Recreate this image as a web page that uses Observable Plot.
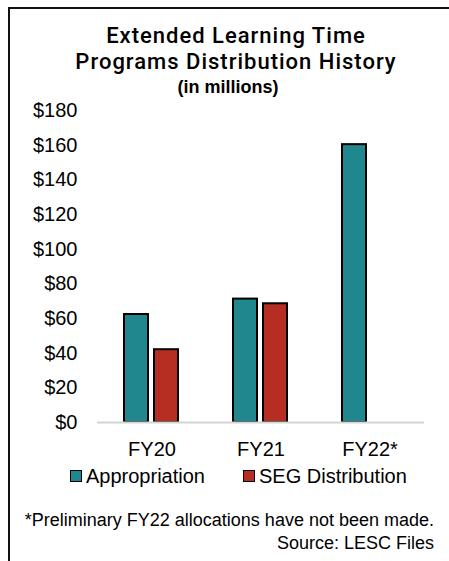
<!DOCTYPE html>
<html>
<head>
<meta charset="utf-8">
<script src="https://cdn.jsdelivr.net/npm/d3@7"></script>
<script src="https://cdn.jsdelivr.net/npm/@observablehq/plot@0.6"></script>
<style>
  html, body { margin: 0; padding: 0; background: #fff; width: 449px; height: 561px; overflow: hidden; }
  body { position: relative; font-family: "Liberation Sans", Arial, sans-serif; color: #000; }
  #frame { position: absolute; left: 8px; top: 7px; width: 460px; height: 600px; border-left: 2px solid #111; border-top: 2px solid #111; }
  .t { position: absolute; left: 12px; width: 448px; text-align: center; white-space: nowrap; }
  #title { top: 23px; font-family: Roboto, "Liberation Sans", sans-serif; font-weight: 500; font-size: 22px; line-height: 26px; letter-spacing: 1px; }
  #sub { top: 77px; font-size: 18px; font-weight: bold; line-height: 20px; left: 4px; }
  #chart { position: absolute; left: 0; top: 100px; }
  #legend { position: absolute; top: 463px; left: 0; width: 449px; font-size: 20px; line-height: 26px; }
  .li { position: absolute; top: 0; white-space: nowrap; }
  .sw { display: inline-block; width: 10px; height: 10px; border: 1.5px solid #000; margin-right: 4px; vertical-align: 1px; }
  .note { position: absolute; right: 15px; font-size: 18px; line-height: 22px; white-space: nowrap; text-align: right; }
</style>
</head>
<body>
<div id="frame"></div>
<div class="t" id="title">Extended Learning Time<br>Programs Distribution History</div>
<div class="t" id="sub">(in millions)</div>
<div id="chart"></div>
<div id="legend"></div>
<div class="note" id="note1" style="top:509px">*Preliminary FY22 allocations have not been made.</div>
<div class="note" id="note2" style="top:532px">Source: LESC Files</div>
<script>
const years = ["FY20", "FY21", "FY22*"];
const series = ["Appropriation", "SEG Distribution"];
const appropriation = [62.3, 71.2, 160.3];
const segDistribution = [42.0, 68.5, null];
const yTicks = [0, 20, 40, 60, 80, 100, 120, 140, 160, 180];
const colors = ["#1F878D", "#B52E21"];

const data = [];
years.forEach((yr, i) => {
  data.push({year: yr, series: series[0], value: appropriation[i]});
  data.push({year: yr, series: series[1], value: segDistribution[i]});
});

const chart = Plot.plot({
  width: 449,
  height: 360,
  marginTop: 10,
  marginBottom: 38,
  marginLeft: 96,
  marginRight: 24,
  style: {fontFamily: "Liberation Sans, Arial, sans-serif", fontSize: "20px", color: "#000", background: "transparent"},
  fx: {domain: years, padding: 0, label: null, axis: "bottom", tickSize: 0, tickPadding: 19},
  x: {domain: series, paddingInner: 0.19, paddingOuter: 0.87, axis: null},
  y: {domain: [0, 180], ticks: yTicks, tickFormat: d => "$" + d, label: null, tickSize: 0, tickPadding: 20},
  color: {domain: series, range: colors},
  marks: [
    Plot.barY(data.filter(d => d.value != null), {fx: "year", x: "series", y: "value", fill: "series", stroke: "#000", strokeWidth: 2}),
    Plot.ruleY([0], {stroke: "#d4d4d4", strokeWidth: 2})
  ]
});
document.getElementById("chart").appendChild(chart);

const legend = document.getElementById("legend");
const legendX = [70, 243];
series.forEach((s, i) => {
  const el = document.createElement("div");
  el.className = "li";
  el.style.left = legendX[i] + "px";
  const sw = document.createElement("span");
  sw.className = "sw";
  sw.style.background = colors[i];
  el.appendChild(sw);
  el.appendChild(document.createTextNode(s));
  legend.appendChild(el);
});
</script>
</body>
</html>
